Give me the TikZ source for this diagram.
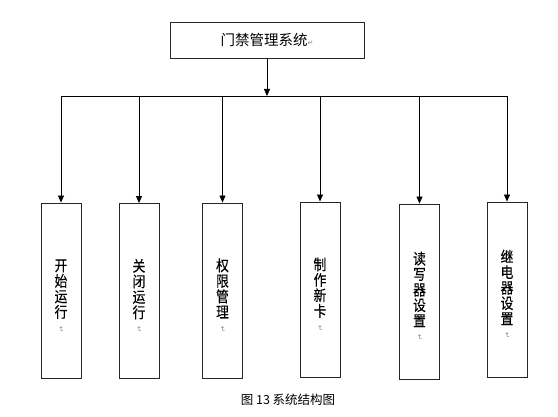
\documentclass[tikz,border=0pt]{standalone}
\usepackage{fontspec}
\newfontfamily\cjk{Noto Sans CJK SC}
\newfontfamily\cjkn[FakeStretch=0.85,FakeBold=0.3]{Noto Sans CJK SC}
\newfontfamily\symf{DejaVu Sans}
\usetikzlibrary{arrows.meta}
\newcommand{\pmark}{{\symf\fontsize{7}{7}\selectfont\color{gray}↵}}
\newcommand{\vpmark}{\rotatebox{-90}{\pmark}}
\newcommand{\topstrut}{\rule{0pt}{22pt}}
\begin{document}
\begin{tikzpicture}[x=1pt,y=-1pt,
  topbox/.style={draw=black!85,line width=0.9pt,minimum width=194pt,minimum height=36pt,inner sep=0pt,font=\cjk\fontsize{14.5}{15}\selectfont},
  vbox/.style={draw=black!85,line width=0.9pt,minimum width=40pt,minimum height=175pt,inner sep=0pt,align=center,font=\cjkn\fontsize{15}{15.5}\selectfont},
  conn/.style={draw=black,line width=0.8pt},
  arr/.style={conn,-{Triangle[length=7pt,width=6pt]}},
  captext/.style={font=\cjk\fontsize{12.5}{13}\selectfont}]
\useasboundingbox[fill=white] (0,0) rectangle (558,417);
\node[topbox] (top) at (267,40) {门禁管理系统\pmark};
\coordinate (bus) at (267,96);
\node[vbox] (b1) at (61,290.5) {\topstrut 开\\始\\运\\行\\[-7pt]\vpmark};
\node[vbox] (b2) at (139,291) {\topstrut 关\\闭\\运\\行\\[-7pt]\vpmark};
\node[vbox] (b3) at (222.5,290.5) {\topstrut 权\\限\\管\\理\\[-7pt]\vpmark};
\node[vbox] (b4) at (320,289.5) {\topstrut 制\\作\\新\\卡\\[-7pt]\vpmark};
\node[vbox] (b5) at (419.5,291.5) {\topstrut 读\\写\\器\\设\\置\\[-7pt]\vpmark};
\node[vbox] (b6) at (507,289.5) {\topstrut 继\\电\\器\\设\\置\\[-7pt]\vpmark};
\draw[arr] (top.south) -- (bus);
\draw[conn] (b1.north |- bus) -- (b6.north |- bus);
\foreach \b in {b1,b2,b3,b4,b5,b6}{
  \draw[arr] (\b.north |- bus) -- (\b.north);
}
\node[captext] (caption) at (288,400) {图 13 系统结构图};
\end{tikzpicture}
\end{document}
